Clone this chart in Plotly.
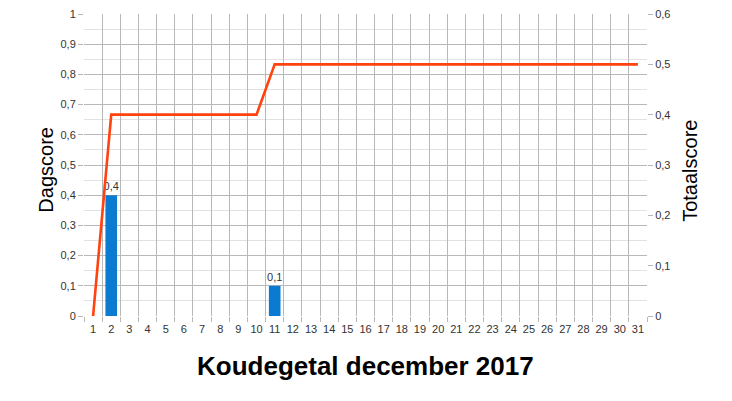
import plotly.graph_objects as go

days = [str(d) for d in range(1, 32)]
dagscore = [None, 0.4, None, None, None, None, None, None, None, None, 0.1] + [None] * 20
totaalscore = [0, 0.4, 0.4, 0.4, 0.4, 0.4, 0.4, 0.4, 0.4, 0.4] + [0.5] * 21
left_ticks = [round(i * 0.1, 1) for i in range(11)]
right_ticks = [round(i * 0.1, 1) for i in range(7)]

def fmt(v):
    if v == 0:
        return "0"
    if v == 1:
        return "1"
    return f"{v}".replace(".", ",")

bar_text = [fmt(v) if v is not None else "" for v in dagscore]

fig = go.Figure()
fig.add_trace(go.Bar(
    x=days, y=dagscore, text=bar_text, textposition="outside", constraintext="none",
    textfont=dict(size=11, color="#333333", family="Liberation Sans"),
    marker=dict(color="#0a7bd0", line=dict(width=0)), width=0.64,
    cliponaxis=False, showlegend=False, yaxis="y"))
fig.add_trace(go.Scatter(
    x=days, y=totaalscore, mode="lines",
    line=dict(color="#ff420e", width=2.6), showlegend=False, yaxis="y2"))

gridc = "#b8b8b8"
fig.update_layout(
    width=732, height=401,
    margin=dict(l=84, r=85, t=14, b=85),
    paper_bgcolor="white", plot_bgcolor="white",
    separators=",.",
    font=dict(family="Liberation Sans", color="#333333", size=11),
    xaxis=dict(type="category", tickson="boundaries", ticks="outside", ticklen=5,
               tickcolor=gridc, showgrid=True, gridcolor=gridc, gridwidth=1,
               showline=False, zeroline=False, tickangle=0, automargin=False,
               ticklabelstandoff=5,
               tickfont=dict(size=11, color="#333333"), range=[-0.5, 30.5]),
    yaxis=dict(range=[0, 1], tickvals=left_ticks, ticktext=[fmt(v) for v in left_ticks],
               ticks="outside", ticklen=5, tickcolor=gridc, showgrid=True, gridcolor=gridc,
               zeroline=False, showline=False, automargin=False,
               minor=dict(dtick=0.05, showgrid=True, gridcolor="#e2e2e2", ticks=""),
               tickfont=dict(size=11, color="#333333")),
    yaxis2=dict(range=[0, 0.6], tickvals=right_ticks, ticktext=[fmt(v) for v in right_ticks],
                overlaying="y", side="right", ticks="outside", ticklen=5, tickcolor=gridc,
                showgrid=False, zeroline=False, showline=False, automargin=False,
                tickfont=dict(size=11, color="#333333")),
)
fig.add_annotation(text="Dagscore", xref="paper", yref="paper", x=-0.069, y=0.485,
                   xanchor="center", yanchor="middle", textangle=-90, showarrow=False,
                   font=dict(size=20, color="#000000", family="Liberation Sans"))
fig.add_annotation(text="Totaalscore", xref="paper", yref="paper", x=1.076, y=0.48,
                   xanchor="center", yanchor="middle", textangle=-90, showarrow=False,
                   font=dict(size=20, color="#000000", family="Liberation Sans"))
fig.add_annotation(text="<b>Koudegetal december 2017</b>", xref="paper", yref="paper",
                   x=0.5, y=-0.166, yanchor="middle", xanchor="center", showarrow=False,
                   font=dict(size=26, color="#000000", family="Liberation Sans"))
fig.write_html("out.html", config={"displayModeBar": False},
               post_script="document.body.style.margin='0px';")
